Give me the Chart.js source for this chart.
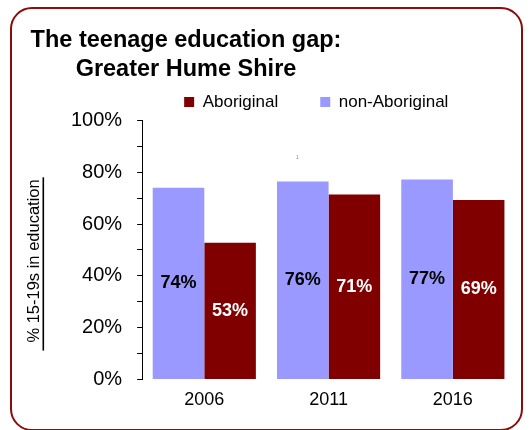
<!DOCTYPE html>
<html>
<head>
<meta charset="utf-8">
<script src="https://cdn.jsdelivr.net/npm/chart.js@4"></script>
<style>
html, body { margin: 0; padding: 0; background: #fff; }
#wrap { position: relative; width: 531px; height: 430px; overflow: hidden; }
#frame { position: absolute; left: 10px; top: 7px; width: 513px; height: 424px; box-sizing: border-box;
         border: 2.5px solid #8b0c0c; border-radius: 22px; background: #fff; }
#c { position: absolute; left: 0; top: 0; }
#title { position: absolute; left: 0; top: 24.5px; width: 372px; text-align: center;
         font: bold 23.5px/29px 'Liberation Sans', Arial, sans-serif; color: #000; }
#note { position: absolute; left: 296px; top: 154px; font: 5px 'Liberation Sans', Arial, sans-serif; color: #888; }
</style>
</head>
<body>
<div id="wrap">
  <div id="frame"></div>
  <canvas id="c" width="531" height="430"></canvas>
  <div id="title">The teenage education gap:<br>Greater Hume Shire</div>
  <span id="note">1</span>
</div>
<script>
// ---- data ----
const categories = ['2006', '2011', '2016'];
const nonAboriginal = [74.0, 76.4, 77.2];
const aboriginal = [52.8, 71.4, 69.3];
const seriesNames = ['non-Aboriginal', 'Aboriginal'];
const yMajorTicks = [0, 20, 40, 60, 80, 100];
const yTitle = '% 15-19s in education';

// ---- styles ----
const regular = "'Liberation Sans', Arial, sans-serif";
const seriesColors = ['#9999ff', '#800000'];
const valueColors = ['#000000', '#ffffff'];

Chart.defaults.font.family = regular;

const valueLabelPlugin = {
  id: 'valueLabels',
  afterDatasetsDraw(chart) {
    const ctx = chart.ctx;
    ctx.save();
    ctx.font = 'bold 18px ' + regular;
    ctx.textAlign = 'center';
    ctx.textBaseline = 'middle';
    chart.data.datasets.forEach((ds, i) => {
      const meta = chart.getDatasetMeta(i);
      meta.data.forEach((bar, j) => {
        ctx.fillStyle = valueColors[i];
        ctx.fillText(Math.round(ds.data[j]) + '%', bar.x, (bar.y + bar.base) / 2);
      });
    });
    ctx.restore();
  }
};

const yTitlePlugin = {
  id: 'yTitleUnderlined',
  afterDraw(chart) {
    const s = chart.scales.y, a = chart.chartArea, ctx = chart.ctx;
    ctx.save();
    ctx.font = '16.5px ' + regular;
    const w = ctx.measureText(yTitle).width;
    const bx = s.left - 17.5;
    const cy = (a.top + a.bottom) / 2 + 11;
    ctx.translate(bx, cy);
    ctx.rotate(-Math.PI / 2);
    ctx.fillStyle = '#000';
    ctx.textAlign = 'center';
    ctx.textBaseline = 'alphabetic';
    ctx.fillText(yTitle, 0, 0);
    ctx.fillRect(-w / 2 - 8, 4, w + 10, 1.6);
    ctx.restore();
  }
};

new Chart(document.getElementById('c'), {
  type: 'bar',
  data: {
    labels: categories,
    datasets: [
      { label: seriesNames[0], data: nonAboriginal, backgroundColor: seriesColors[0] },
      { label: seriesNames[1], data: aboriginal, backgroundColor: seriesColors[1] }
    ]
  },
  options: {
    responsive: false,
    animation: false,
    devicePixelRatio: 1,
    layout: { padding: { left: 56, right: 16, top: 51.5, bottom: 9 } },
    datasets: { bar: { categoryPercentage: 0.83, barPercentage: 1.0 } },
    plugins: {
      title: { display: false },
      tooltip: { enabled: false },
      legend: {
        display: true,
        position: 'top',
        align: 'start',
        fullSize: false,
        reverse: true,
        labels: { boxWidth: 10, boxHeight: 10, padding: 42, color: '#000', font: { size: 17 } }
      }
    },
    scales: {
      x: {
        grid: { display: false, drawTicks: false },
        border: { display: false },
        ticks: { color: '#000', padding: 10, font: { size: 18 } }
      },
      y: {
        min: 0,
        max: 100,
        ticks: {
          stepSize: 10,
          autoSkip: false,
          padding: 15,
          color: '#000',
          font: { size: 20 },
          callback: v => (yMajorTicks.includes(v) ? v + '%' : '')
        },
        grid: { drawOnChartArea: false, drawTicks: true, tickLength: 5, color: '#000' },
        border: { display: true, color: '#000', width: 1 }
      }
    }
  },
  plugins: [valueLabelPlugin, yTitlePlugin]
});
</script>
</body>
</html>
